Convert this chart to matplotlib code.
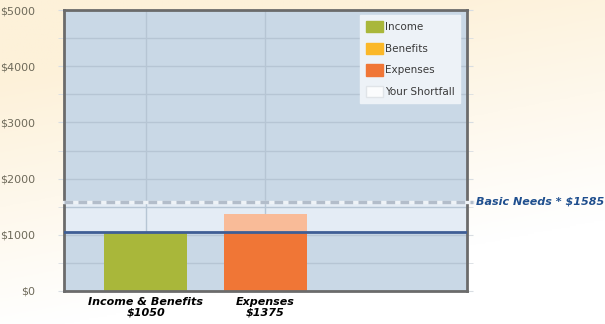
import numpy as np
import matplotlib.pyplot as plt
from matplotlib.patches import Patch
from matplotlib.colors import LinearSegmentedColormap

# data
categories = ['Income & Benefits\n$1050', 'Expenses\n$1375']
income = [1050, 0]
expenses = [0, 1375]
available = 1050
basic_needs = 1585
y_ticks = [0, 1000, 2000, 3000, 4000, 5000]
y_labels = ['$0', '$1000', '$2000', '$3000', '$4000', '$5000']
legend_names = ['Income', 'Benefits', 'Expenses', 'Your Shortfall']
legend_colors = ['#a9b73a', '#fbb829', '#f07636', '#fbfcfd']

fig = plt.figure(figsize=(6.05, 3.24), dpi=100)

# cream-to-white background
bg = fig.add_axes([0, 0, 1, 1], zorder=-10)
yy, xx = np.mgrid[0:1:200j, 0:1:200j]
g = np.clip(1.25 * yy - 0.45 * xx + 0.05, 0, 1)
cmap = LinearSegmentedColormap.from_list('bg', ['#ffffff', '#fdf1d9'])
bg.imshow(g, cmap=cmap, origin='lower', aspect='auto', extent=[0, 1, 0, 1], vmin=0, vmax=1)
bg.axis('off')

ax = fig.add_axes([64 / 605, 1 - 291 / 324, 403 / 605, 281 / 324])
ax.set_facecolor('#c9d8e6')
x = np.arange(len(categories))
w = 0.695

# shortfall band
ax.axhspan(available, basic_needs, color='#e4ecf5', zorder=0.4)

ax.bar(x, [min(v, available) if v else 0 for v in income], w, color='#a9b73a', zorder=2)
ax.bar(x, [min(v, available) if v else 0 for v in expenses], w, color='#f07636', zorder=2)
ax.bar(x, [max(v - available, 0) for v in expenses], w,
       bottom=[available if v else 0 for v in expenses], color='#f9bb98', zorder=2)

ax.axhline(available, color='#3f5e95', lw=2, zorder=3)
ax.plot([0, 1.015], [basic_needs, basic_needs], color='#eef2f6', lw=2.4,
        transform=ax.get_yaxis_transform(), clip_on=False, zorder=3)
ax.plot([0, 1.015], [basic_needs, basic_needs], color='#b3bdca', lw=2.4, dashes=(2.6, 1.6),
        transform=ax.get_yaxis_transform(), clip_on=False, zorder=3)
ax.text(1.022, basic_needs, 'Basic Needs * $%d' % basic_needs, transform=ax.get_yaxis_transform(),
        ha='left', va='center', fontsize=8, fontweight='bold', style='italic', color='#1f4f8e')

ax.set_xlim(-0.686, 2.69)
ax.set_ylim(0, 5000)
ax.set_yticks(y_ticks)
ax.set_yticklabels(y_labels, color='#6e6a5a', fontsize=8)
ax.set_yticks(np.arange(500, 5000, 1000), minor=True)
ax.set_xticks(x)
ax.set_xticklabels(categories, fontsize=8, fontweight='bold', style='italic', linespacing=1.15)
ax.tick_params(axis='y', which='both', length=0, pad=17)
ax.tick_params(axis='x', length=0, pad=4)
ax.tick_params(axis='y', which='both', right=True, length=4, color='#d8dde2', direction='out')
ax.set_axisbelow(True)
ax.grid(True, which='both', color='#b6c5d4', lw=1)

for s in ax.spines.values():
    s.set_color('#6b6b6b')
    s.set_linewidth(2)

handles = [Patch(facecolor=c, edgecolor='#e0e4e8' if i == 3 else c) for i, c in enumerate(legend_colors)]
leg = ax.legend(handles, legend_names, loc='upper right', bbox_to_anchor=(0.983, 0.982),
                fontsize=7.5, frameon=True, fancybox=False, facecolor='#edf2f7', edgecolor='#edf2f7',
                framealpha=1, handlelength=1.6, handleheight=1.3, handletextpad=0.2,
                labelspacing=1.0, borderpad=0.55, borderaxespad=0)
for t in leg.get_texts():
    t.set_color('#3a3a3a')

fig.savefig('out.png', dpi=100)
